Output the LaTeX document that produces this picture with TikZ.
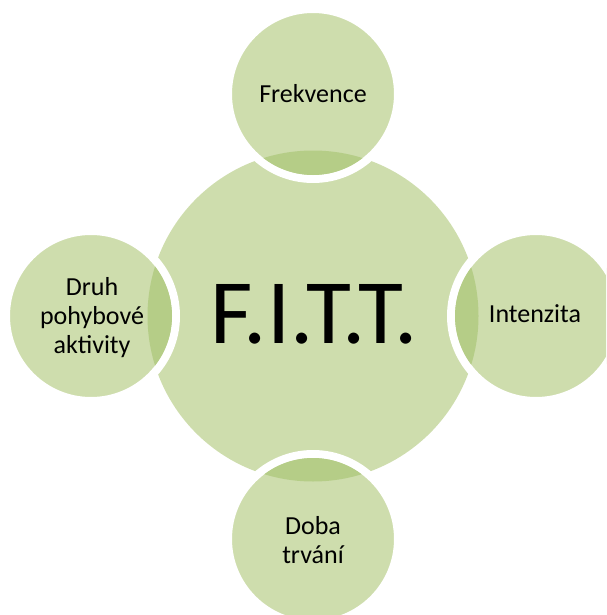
\documentclass[tikz,border=0pt]{standalone}
\usepackage{fontspec}
\setmainfont{Carlito}
\definecolor{leaf}{HTML}{CEDDAD}
\definecolor{leafdark}{HTML}{B5CD87}
\begin{document}
\begin{tikzpicture}[x=1pt,y=-1pt,
  hub/.style={circle, fill=leaf, minimum size=331pt, inner sep=0pt},
  petal/.style={circle, fill=leaf, draw=white, line width=8pt, minimum size=170pt, inner sep=0pt},
  petaltext/.style={align=center, font=\fontsize{26}{29}\selectfont, inner sep=0pt},
  hubtext/.style={font=\fontsize{92}{100}\selectfont, inner sep=0pt}]
  \useasboundingbox (0,0) rectangle (606,615);
  \clip (0,0) rectangle (606,615);

  % central circle
  \node[hub] (hub) at (313,316) {};

  % surrounding circles with white rims
  \node[petal] (freq) at (313,94) {};
  \node[petal] (int)  at (536,316) {};
  \node[petal] (dur)  at (313,539) {};
  \node[petal] (type) at (91,316) {};

  % darker lens where each circle overlaps the centre
  \foreach \p in {freq,int,dur,type}{
    \begin{scope}
      \clip (hub.center) circle (165.5);
      \fill[leafdark] (\p.center) circle (81);
    \end{scope}
  }

  % labels
  \node[hubtext] (hublabel) at (314,314) {F.I.T.T.};
  \node[petaltext] (freqlabel) at (freq.center) {Frekvence};
  \node[petaltext] (intlabel)  at (535,314) {Intenzita};
  \node[petaltext] (durlabel)  at (313,540) {Doba\\trvání};
  \node[petaltext] (typelabel) at (92,318) {Druh\\pohybové\\aktivity};
\end{tikzpicture}
\end{document}
